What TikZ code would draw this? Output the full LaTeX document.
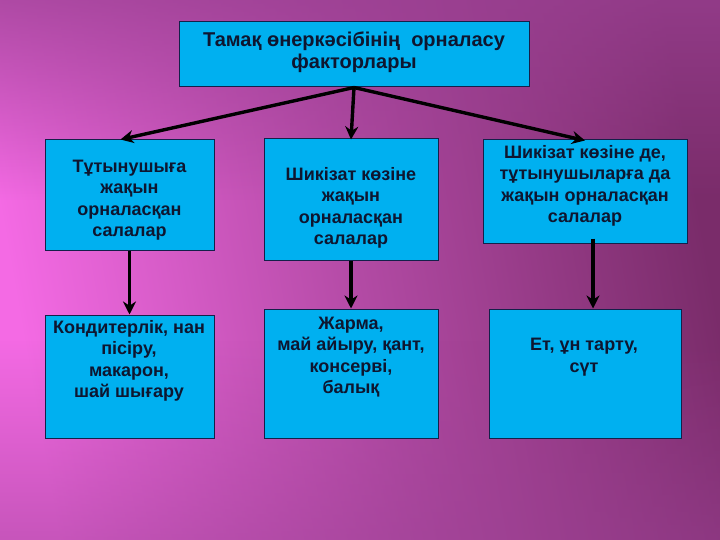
\documentclass[tikz,border=0pt]{standalone}
\usepackage{fontspec}
\setmainfont{Liberation Sans}
\usetikzlibrary{arrows.meta,fadings}
\definecolor{bgpink}{HTML}{F46AE4}
\definecolor{bgmid}{HTML}{B24AA4}
\definecolor{bgdark}{HTML}{7A2C6A}
\definecolor{bgtop}{HTML}{9A4092}
\definecolor{boxfill}{HTML}{00B0F0}
\definecolor{boxline}{HTML}{14204A}
\definecolor{txtc}{HTML}{0E1630}
\tikzset{
  box/.style={draw=boxline, line width=1pt, fill=boxfill, rectangle, inner sep=0pt},
  txt/.style={align=center, text=txtc, inner sep=0pt, font=\fontsize{18}{21.5}\selectfont\bfseries},
  conn/.style={line width=3.4pt, draw=black, -{Stealth[length=13pt,width=13pt]}}
}
\begin{document}
\begin{tikzpicture}[x=1pt,y=-1pt]
\useasboundingbox (0,0) rectangle (720,540);
% background
\shade[left color=bgpink, right color=bgdark, middle color=bgmid, shading angle=100] (0,0) rectangle (720,540);
\fill[bgtop, path fading=south, opacity=0.75] (0,0) rectangle (720,200);
\fill[bgtop, path fading=north, opacity=0.5] (0,340) rectangle (720,540);
% boxes
\node[box, minimum width=350pt, minimum height=65pt] (top) at (354,54.5) {};
\node[box, minimum width=169pt, minimum height=110pt] (ml) at (129.5,195) {};
\node[box, minimum width=174pt, minimum height=121pt] (mm) at (351,199.5) {};
\node[box, minimum width=204pt, minimum height=103pt] (mr) at (585,191.5) {};
\node[box, minimum width=169pt, minimum height=123pt] (bl) at (129.5,376.5) {};
\node[box, minimum width=174pt, minimum height=129pt] (bm) at (351,373.5) {};
\node[box, minimum width=192pt, minimum height=129pt] (br) at (585,373.5) {};
% texts
\node[txt, font=\fontsize{20}{22.5}\selectfont\bfseries] (ttop) at (354,52) {Тамақ өнеркәсібінің\ \ орналасу\\факторлары};
\node[txt] (tml) at (129.5,200) {Тұтынушыға\\жақын\\орналасқан\\салалар};
\node[txt] (tmm) at (351,208) {Шикізат көзіне\\жақын\\орналасқан\\салалар};
\node[txt] (tmr) at (585,186) {Шикізат көзіне де,\\тұтынушыларға да\\жақын орналасқан\\салалар};
\node[txt] (tbl) at (129,361) {Кондитерлік, нан\\пісіру,\\макарон,\\шай шығару};
\node[txt] (tbm) at (351,357) {Жарма,\\май айыру, қант,\\консерві,\\балық};
\node[txt] (tbr) at (584,357) {Ет, ұн тарту,\\сүт};
% connectors
\draw[conn] (top.south) -- ([xshift=-9pt]ml.north);
\draw[conn] (top.south) -- ([yshift=-1pt]mm.north);
\draw[conn] (top.south) -- ([yshift=-1pt]mr.north);
\draw[conn] (ml.south) -- (bl.north);
\draw[conn] (mm.south) -- (bm.north);
\draw[conn] ([shift={(8pt,5pt)}]mr.south) -- ([xshift=8pt]br.north);
\end{tikzpicture}
\end{document}
